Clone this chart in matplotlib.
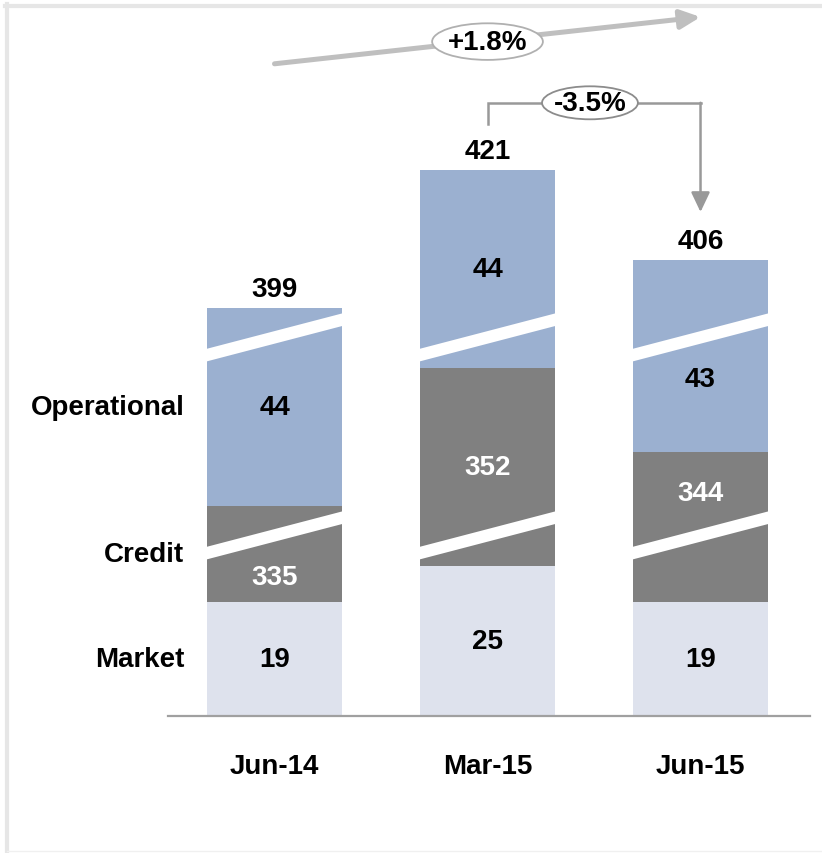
import numpy as np
import matplotlib.pyplot as plt
from matplotlib.patches import Ellipse, Polygon
from matplotlib.lines import Line2D

# -- datos --
periods = ['Jun-14', 'Mar-15', 'Jun-15']
market = [19, 25, 19]
credit = [335, 352, 344]
operational = [44, 44, 43]
totals = [399, 421, 406]
changes = ['+1.8%', '-3.5%']
categories = ['Market', 'Credit', 'Operational']

# -- colores --
c_market = '#DEE2ED'
c_credit = '#808080'
c_oper = '#9BB0D0'
c_axis = '#A0A0A0'

plt.rcParams['font.family'] = ['Liberation Sans', 'DejaVu Sans']
FS = 20

# eje "roto": se recorta una parte fija de cada tramo
credit_cut = 319
oper_cut = 11
credit_slash = 30.1
oper_slash = 63.1

x = np.arange(len(periods))
w = 0.63
m = np.array(market, dtype=float)
c = np.array(credit, dtype=float) - credit_cut
o = np.array(operational, dtype=float) - oper_cut
top = m + c + o

fig = plt.figure(figsize=(8.22, 8.54), dpi=100)
ax = fig.add_axes([168 / 822, 1 - 717 / 854, 642 / 822, 717 / 854])
ax.set_facecolor('none')

ax.bar(x, m, w, color=c_market, zorder=2)
ax.bar(x, c, w, bottom=m, color=c_credit, zorder=2)
ax.bar(x, o, w, bottom=m + c, color=c_oper, zorder=2)


def slash(xc, yc):
    xl, xr = xc - w / 2 - 0.003, xc + w / 2 + 0.003
    rise, t = 2.95, 2.1
    pts = [(xl, yc - rise - t / 2), (xr, yc + rise - t / 2),
           (xr, yc + rise + t / 2), (xl, yc - rise + t / 2)]
    ax.add_patch(Polygon(pts, closed=True, facecolor='white', edgecolor='none', zorder=3))


def label_y(lo, hi, cut):
    mid = (lo + hi) / 2
    if abs(mid - cut) < 7:
        mid = cut - 7 if mid < cut else cut + 7
    return mid


for i in range(len(periods)):
    slash(x[i], credit_slash)
    slash(x[i], oper_slash)
    ax.text(x[i], m[i] / 2, f'{market[i]}', ha='center', va='center',
            fontsize=FS, fontweight='bold', color='black', zorder=5)
    ax.text(x[i], label_y(m[i], m[i] + c[i], credit_slash), f'{credit[i]}',
            ha='center', va='center', fontsize=FS, fontweight='bold', color='white', zorder=5)
    ax.text(x[i], label_y(m[i] + c[i], top[i], oper_slash), f'{operational[i]}',
            ha='center', va='center', fontsize=FS, fontweight='bold', color='black', zorder=5)
    ax.text(x[i], top[i] + 3.2, f'{totals[i]}', ha='center', va='center',
            fontsize=FS, fontweight='bold', color='black', zorder=5)

# etiquetas de categoria a la izquierda
mids0 = [m[0] / 2, m[0] + c[0] / 2, m[0] + c[0] + o[0] / 2]
for name, yy in zip(categories, mids0):
    ax.text(x[0] - w / 2 - 0.108, yy, name, ha='right', va='center',
            fontsize=FS, fontweight='bold', color='black')

# flecha superior (+1.8%)
ax.annotate('', xy=(2.0, 116.5), xytext=(0.0, 108.7),
            arrowprops=dict(arrowstyle='-|>,head_length=0.8,head_width=0.38',
                            mutation_scale=15, color='#BFBFBF', lw=3.6,
                            shrinkA=0, shrinkB=0), zorder=4)
ax.add_patch(Ellipse((1.0, 112.4), 0.52, 6.1, facecolor='white',
                     edgecolor='#B0B0B0', lw=1.3, zorder=5))
ax.text(1.0, 112.4, changes[0], ha='center', va='center', fontsize=FS,
        fontweight='bold', zorder=6)

# conector (-3.5%)
ax.plot([1.0, 1.0, 2.0], [98.7, 102.2, 102.2], color='#999999', lw=1.8,
        solid_joinstyle='miter', zorder=4)
ax.annotate('', xy=(2.0, 84.0), xytext=(2.0, 102.2),
            arrowprops=dict(arrowstyle='-|>,head_length=0.8,head_width=0.38',
                            mutation_scale=15, color='#999999', lw=1.8,
                            shrinkA=0, shrinkB=0), zorder=4)
ax.add_patch(Ellipse((1.481, 102.2), 0.45, 5.5, facecolor='white',
                     edgecolor='#8C8C8C', lw=1.3, zorder=5))
ax.text(1.481, 102.2, changes[1], ha='center', va='center', fontsize=FS,
        fontweight='bold', zorder=6)

# ejes
ax.set_xlim(-0.5, 2.514)
ax.set_ylim(0, 717 / 6)
ax.set_yticks([])
ax.set_xticks(x)
ax.set_xticklabels(periods, fontsize=FS, fontweight='bold')
ax.tick_params(axis='x', length=0, pad=27)
for s in ['top', 'right', 'left']:
    ax.spines[s].set_visible(False)
ax.spines['bottom'].set_color(c_axis)
ax.spines['bottom'].set_linewidth(1.6)

# marco gris claro
fig.add_artist(Line2D([5 / 822, 1], [1 - 7 / 854, 1 - 7 / 854], transform=fig.transFigure,
                      color='#E6E6E6', lw=3))
fig.add_artist(Line2D([7 / 822, 7 / 822], [0, 1 - 5 / 854], transform=fig.transFigure,
                      color='#E6E6E6', lw=3))
fig.add_artist(Line2D([7 / 822, 1], [2 / 854, 2 / 854], transform=fig.transFigure,
                      color='#F0F0F0', lw=1))

fig.savefig('out.png', dpi=100, facecolor='white')
